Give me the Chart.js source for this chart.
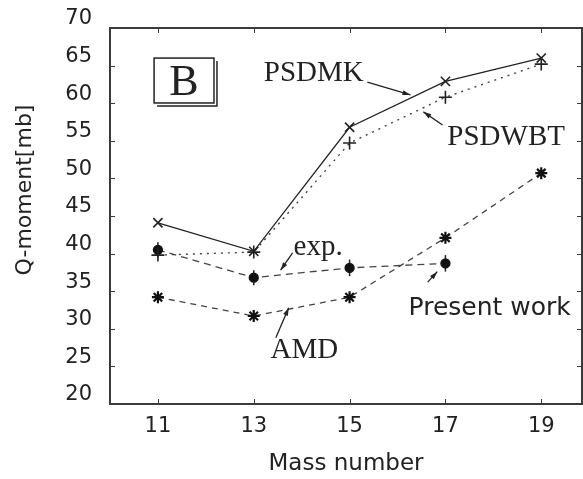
<!DOCTYPE html>
<html>
<head>
<meta charset="utf-8">
<script src="https://cdn.jsdelivr.net/npm/chart.js@4.4.0/dist/chart.umd.min.js"></script>
<style>
  html, body { margin: 0; padding: 0; background: #fff; }
  #wrap { width: 583px; height: 479px; }
</style>
</head>
<body>
<div id="wrap"><canvas id="chart"></canvas></div>
<script>
// values
const massNumbers = [11, 13, 15, 17, 19];
const psdmk = [44.1, 40.3, 56.8, 62.9, 66.0];
const psdwbt = [39.8, 40.2, 54.7, 60.8, 65.2];
const amd = [34.2, 31.7, 34.2, 42.1, 50.7];
const expMass = [11, 13, 15, 17];
const expQ = [40.5, 36.8, 38.1, 38.7];
const expErr = [1.0, 1.0, 1.1, 1.1];
const yTicks = [20, 25, 30, 35, 40, 45, 50, 55, 60, 65, 70];

const ink = "#222";
const serif = "'Liberation Serif', 'Times New Roman', serif";
const sans = "'DejaVu Sans', sans-serif";

// labels with leader arrows, placed in data units
const notes = [
    { text: "PSDMK", x: 13.21, y: 62.95, from: [15.37, 62.8], to: [16.27, 61.1] },
    { text: "PSDWBT", x: 17.04, y: 54.45, from: [16.94, 57.1], to: [16.54, 58.85] },
    { text: "exp.", x: 13.83, y: 39.8, from: [13.81, 40.1], to: [13.56, 37.8] },
    { text: "AMD", x: 13.35, y: 26.1, from: [13.46, 28.8], to: [13.73, 32.8] },
    { text: "Present work", x: 16.23, y: 31.85, from: [16.63, 36.2], to: [16.83, 37.6], font: "25px " + sans },
];

const pts = (xs, ys) => xs.map((x, i) => ({ x: x, y: ys[i] }));

const frame = {
    id: "frame",
    beforeDatasetsDraw(chart) {
        const { ctx, scales: { x, y } } = chart;
        ctx.save();
        ctx.strokeStyle = ink;
        ctx.lineWidth = 1.5;
        expMass.forEach((m, i) => {
            const px = x.getPixelForValue(m);
            ctx.beginPath();
            ctx.moveTo(px, y.getPixelForValue(expQ[i] - expErr[i]));
            ctx.lineTo(px, y.getPixelForValue(expQ[i] + expErr[i]));
            ctx.stroke();
        });
        ctx.restore();
    },
    afterDraw(chart) {
        const { ctx, chartArea: a, scales: { x, y } } = chart;
        ctx.save();
        // box with inward ticks
        ctx.strokeStyle = "#3a3a3a";
        ctx.lineWidth = 2;
        ctx.strokeRect(a.left, a.top, a.right - a.left, a.bottom - a.top);
        ctx.lineWidth = 1;
        ctx.beginPath();
        x.ticks.forEach(t => {
            const px = Math.round(x.getPixelForValue(t.value)) + 0.5;
            ctx.moveTo(px, a.bottom); ctx.lineTo(px, a.bottom - 5);
            ctx.moveTo(px, a.top); ctx.lineTo(px, a.top + 5);
        });
        y.ticks.forEach(t => {
            const py = Math.round(y.getPixelForValue(t.value)) + 0.5;
            ctx.moveTo(a.left, py); ctx.lineTo(a.left + 5, py);
            ctx.moveTo(a.right, py); ctx.lineTo(a.right - 5, py);
        });
        ctx.stroke();

        // y title
        ctx.fillStyle = ink;
        ctx.font = "22px " + sans;
        ctx.textAlign = "center";
        ctx.textBaseline = "middle";
        ctx.translate(25, 190);
        ctx.rotate(-Math.PI / 2);
        ctx.fillText("Q-moment[mb]", 0, 0);
        ctx.setTransform(1, 0, 0, 1, 0, 0);

        // notes and leaders
        ctx.textAlign = "left";
        ctx.textBaseline = "alphabetic";
        notes.forEach(n => {
            ctx.font = n.font || "29px " + serif;
            ctx.fillText(n.text, x.getPixelForValue(n.x), y.getPixelForValue(n.y));
            const x1 = x.getPixelForValue(n.from[0]), y1 = y.getPixelForValue(n.from[1]);
            const x2 = x.getPixelForValue(n.to[0]), y2 = y.getPixelForValue(n.to[1]);
            ctx.strokeStyle = ink;
            ctx.lineWidth = 1.3;
            ctx.beginPath();
            ctx.moveTo(x1, y1); ctx.lineTo(x2, y2);
            ctx.stroke();
            const ang = Math.atan2(y2 - y1, x2 - x1);
            ctx.beginPath();
            ctx.moveTo(x2, y2);
            ctx.lineTo(x2 - 8 * Math.cos(ang) + 2.5 * Math.sin(ang), y2 - 8 * Math.sin(ang) - 2.5 * Math.cos(ang));
            ctx.lineTo(x2 - 8 * Math.cos(ang) - 2.5 * Math.sin(ang), y2 - 8 * Math.sin(ang) + 2.5 * Math.cos(ang));
            ctx.closePath();
            ctx.fill();
        });

        // panel tag
        const bx1 = x.getPixelForValue(10.92), bx2 = x.getPixelForValue(12.17);
        const by1 = y.getPixelForValue(66.0), by2 = y.getPixelForValue(60.03);
        ctx.lineWidth = 1.5;
        ctx.strokeRect(bx1, by1, bx2 - bx1, by2 - by1);
        ctx.beginPath();
        ctx.moveTo(bx2 + 3, by1 + 3); ctx.lineTo(bx2 + 3, by2 + 3); ctx.lineTo(bx1 + 3, by2 + 3);
        ctx.stroke();
        ctx.font = "44px " + serif;
        ctx.textAlign = "center";
        ctx.fillText("B", (bx1 + bx2) / 2, by2 - 8);
        ctx.restore();
    },
};

const ctx = document.getElementById("chart");

new Chart(ctx, {
    type: "line",
    data: {
        datasets: [
            {
                label: "PSDMK",
                data: pts(massNumbers, psdmk),
                borderColor: ink,
                borderWidth: 1.3,
                pointStyle: "crossRot",
                pointRadius: 6.5,
                pointBorderWidth: 1.6,
                pointBorderColor: ink,
            },
            {
                label: "PSDWBT",
                data: pts(massNumbers, psdwbt),
                borderColor: "#444",
                borderWidth: 1.4,
                borderDash: [2, 5],
                pointStyle: "cross",
                pointRadius: 6.5,
                pointBorderWidth: 1.6,
                pointBorderColor: ink,
            },
            {
                label: "exp.",
                data: pts(expMass, expQ),
                borderColor: "#444",
                borderWidth: 1.3,
                borderDash: [7, 5],
                pointStyle: "circle",
                pointRadius: 4.5,
                pointBackgroundColor: "#111",
                pointBorderColor: "#111",
            },
            {
                label: "AMD",
                data: pts(massNumbers, amd),
                borderColor: "#444",
                borderWidth: 1.3,
                borderDash: [6, 5],
                pointStyle: "star",
                pointRadius: 6,
                pointBorderWidth: 2.2,
                pointBorderColor: "#111",
            },
        ],
    },
    options: {
        responsive: true,
        maintainAspectRatio: false,
        animation: false,
        layout: { autoPadding: false, padding: { top: 28, right: 1, left: 0, bottom: 0 } },
        plugins: {
            legend: { display: false },
            tooltip: { enabled: false },
        },
        scales: {
            x: {
                type: "linear",
                min: 10,
                max: 19.85,
                afterBuildTicks: s => { s.ticks = massNumbers.map(v => ({ value: v })); },
                afterFit: s => { s.height = 75; s.paddingLeft = 0; s.paddingRight = 0; },
                grid: { display: false, drawTicks: false },
                border: { display: false },
                ticks: {
                    autoSkip: false,
                    maxRotation: 0,
                    padding: 10,
                    color: ink,
                    font: { size: 21, family: sans },
                },
                title: {
                    display: true,
                    text: "Mass number",
                    color: ink,
                    font: { size: 23, family: sans },
                    padding: { top: 0, bottom: 1 },
                },
            },
            y: {
                min: 20,
                max: 70,
                afterBuildTicks: s => { s.ticks = yTicks.map(v => ({ value: v })); },
                afterFit: s => { s.width = 110; s.paddingTop = 0; s.paddingBottom = 0; },
                grid: { display: false, drawTicks: false },
                border: { display: false },
                ticks: {
                    autoSkip: false,
                    padding: 18,
                    labelOffset: -9,
                    color: ink,
                    font: { size: 21, family: sans },
                },
            },
        },
    },
    plugins: [frame],
});
</script>
</body>
</html>
